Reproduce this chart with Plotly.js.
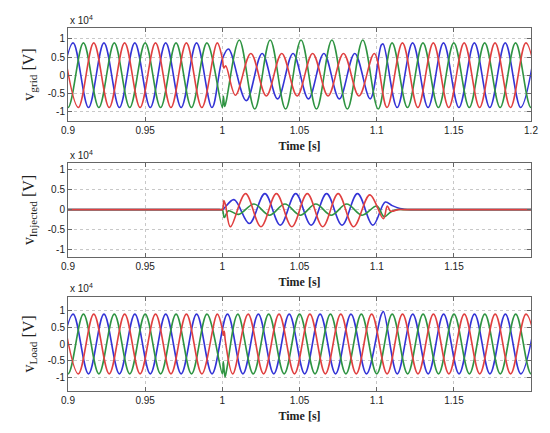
<!DOCTYPE html>
<html>
<head>
<meta charset="utf-8">
<script src="https://cdn.plot.ly/plotly-3.0.1.min.js"></script>
<style>
  body { margin: 0; background: #fff; }
  #graphs-div { width: 550px; height: 433px; }
</style>
</head>
<body>
<div id="graphs-div"></div>
<script>
// Steady 50 Hz waveforms: times [s] of each half-cycle extreme and the value there [V]
const blueSteadyT = [0.8933, 0.9033, 0.9133, 0.9233, 0.9333, 0.9433, 0.9533, 0.9633, 0.9733, 0.9833, 0.9933,
    1.0033, 1.0133, 1.0233, 1.0333, 1.0433, 1.0533, 1.0633, 1.0733, 1.0833, 1.0933,
    1.1033, 1.1133, 1.1233, 1.1333, 1.1433, 1.1533, 1.1633, 1.1733, 1.1833, 1.1933, 1.2033];
const blueSteadyV = [-8900, 8900, -8900, 8900, -8900, 8900, -8900, 8900, -8900, 8900, -8900,
    8900, -8900, 8900, -8900, 8900, -8900, 8900, -8900, 8900, -8900,
    8900, -8900, 8900, -8900, 8900, -8900, 8900, -8900, 8900, -8900, 8900];
const greenSteadyT = [0.89, 0.90, 0.91, 0.92, 0.93, 0.94, 0.95, 0.96, 0.97, 0.98, 0.99,
    1.00, 1.01, 1.02, 1.03, 1.04, 1.05, 1.06, 1.07, 1.08, 1.09,
    1.10, 1.11, 1.12, 1.13, 1.14, 1.15, 1.16, 1.17, 1.18, 1.19, 1.20, 1.21];
const greenSteadyV = [8900, -8900, 8900, -8900, 8900, -8900, 8900, -8900, 8900, -8900, 8900,
    -8900, 8900, -8900, 8900, -8900, 8900, -8900, 8900, -8900, 8900,
    -8900, 8900, -8900, 8900, -8900, 8900, -8900, 8900, -8900, 8900, -8900, 8900];
const redSteadyT = [0.8967, 0.9067, 0.9167, 0.9267, 0.9367, 0.9467, 0.9567, 0.9667, 0.9767, 0.9867, 0.9967,
    1.0067, 1.0167, 1.0267, 1.0367, 1.0467, 1.0567, 1.0667, 1.0767, 1.0867, 1.0967,
    1.1067, 1.1167, 1.1267, 1.1367, 1.1467, 1.1567, 1.1667, 1.1767, 1.1867, 1.1967, 1.2067];
const redSteadyV = [8900, -8900, 8900, -8900, 8900, -8900, 8900, -8900, 8900, -8900, 8900,
    -8900, 8900, -8900, 8900, -8900, 8900, -8900, 8900, -8900, 8900,
    -8900, 8900, -8900, 8900, -8900, 8900, -8900, 8900, -8900, 8900, -8900];

// Grid voltage during the sag (replaces the steady points in its time span)
const gridBlueSagT = [1.0000, 1.0040, 1.0155, 1.0258, 1.0358, 1.0458, 1.0558, 1.0658, 1.0758, 1.0858, 1.0958, 1.1030, 1.1042];
const gridBlueSagV = [4450, 7200, -7000, 6000, -6500, 6000, -6500, 6000, -6500, 6000, -6500, 8300, 8600];
const gridGreenSagT = [1.0000, 1.0007, 1.0015, 1.0025, 1.0110, 1.0210, 1.0310, 1.0410, 1.0510, 1.0610, 1.0710, 1.0810, 1.0910, 1.1010];
const gridGreenSagV = [-8900, -5800, -8600, -7200, 9700, -9300, 9700, -9300, 9700, -9300, 9700, -9300, 9700, -9300];
const gridRedSagT = [1.0000, 1.0010, 1.0022, 1.0085, 1.0185, 1.0285, 1.0385, 1.0485, 1.0585, 1.0685, 1.0785, 1.0885, 1.0985];
const gridRedSagV = [4600, 2000, 2600, -5500, 6000, -5700, 6000, -5700, 6000, -5700, 6000, -5700, 6000];

// Injected voltage
const injBlueT = [0.89, 0.998, 1.0000, 1.0075, 1.0175, 1.0275, 1.0375, 1.0475, 1.0575, 1.0675, 1.0775, 1.0875, 1.0975,
    1.1055, 1.1100, 1.1150, 1.1220, 1.1260, 1.21];
const injBlueV = [0, 0, 0, 2500, -3500, 4000, -3900, 4000, -3900, 4000, -3900, 4000, -3900,
    1900, 1000, 300, 0, 0, 0];
const injGreenT = [0.89, 0.998, 1.0000, 1.0012, 1.0040, 1.0105, 1.0205, 1.0305, 1.0405, 1.0505, 1.0605, 1.0705, 1.0805, 1.0905,
    1.1000, 1.1048, 1.1090, 1.1130, 1.1170, 1.21];
const injGreenV = [0, 0, 0, -2000, -300, -1200, 1400, -1400, 1400, -1400, 1400, -1400, 1400, -1400,
    900, -1800, -600, 0, 0, 0];
const injRedT = [0.89, 0.998, 1.0000, 1.0010, 1.0020, 1.0052, 1.0150, 1.0250, 1.0350, 1.0450, 1.0550, 1.0650, 1.0750, 1.0850, 1.0955,
    1.1043, 1.1068, 1.1090, 1.1140, 1.1180, 1.21];
const injRedV = [0, 0, 0, 2300, 1200, -4300, 4000, -4300, 4000, -4300, 4000, -4300, 4000, -4300, 3700,
    -2300, 900, -400, 0, 0, 0];

// Load voltage switching transients
const loadBlueTrT = [1.1028, 1.1043];
const loadBlueTrV = [8600, 9700];
const loadGreenTrT = [1.0000, 1.0006, 1.0017, 1.0028];
const loadGreenTrV = [-8900, -5200, -9800, -7600];
const loadRedTrT = [1.0000, 1.0006, 1.0012, 1.0020];
const loadRedTrV = [4400, 2600, 3800, 600];

// Axis ticks
const xTickVals = [0.9, 0.95, 1, 1.05, 1.1, 1.15, 1.2];
const xTickText = ['0.9', '0.95', '1', '1.05', '1.1', '1.15', '1.2'];
const yTickVals = [-10000, -5000, 0, 5000, 10000];
const yTickText = ['-1', '-0.5', '0', '0.5', '1'];

const BLUE = '#3434d6';
const GREEN = '#2f9442';
const RED = '#e04040';

// put the transient points in place of the steady ones that fall in their time span
function mergeTransient(steadyT, steadyV, trT, trV) {
    let t0 = trT[0], t1 = trT[trT.length - 1];
    let pts = [];
    for (let i = 0; i < steadyT.length; i++) {
        if (steadyT[i] < t0 || steadyT[i] > t1) pts.push([steadyT[i], steadyV[i]]);
    }
    for (let i = 0; i < trT.length; i++) pts.push([trT[i], trV[i]]);
    pts.sort((a, b) => a[0] - b[0]);
    return { t: pts.map(p => p[0]), v: pts.map(p => p[1]) };
}

function makeTrace(t, v, color, n) {
    return {
        x: t, y: v,
        xaxis: n === 1 ? 'x' : 'x' + n,
        yaxis: n === 1 ? 'y' : 'y' + n,
        mode: 'lines', type: 'scatter',
        line: { color: color, width: 1.6, shape: 'spline', smoothing: 1 },
        hoverinfo: 'skip'
    };
}

let gB = mergeTransient(blueSteadyT, blueSteadyV, gridBlueSagT, gridBlueSagV);
let gG = mergeTransient(greenSteadyT, greenSteadyV, gridGreenSagT, gridGreenSagV);
let gR = mergeTransient(redSteadyT, redSteadyV, gridRedSagT, gridRedSagV);
let lB = mergeTransient(blueSteadyT, blueSteadyV, loadBlueTrT, loadBlueTrV);
let lG = mergeTransient(greenSteadyT, greenSteadyV, loadGreenTrT, loadGreenTrV);
let lR = mergeTransient(redSteadyT, redSteadyV, loadRedTrT, loadRedTrV);

var data = [
    makeTrace(gB.t, gB.v, BLUE, 1), makeTrace(gG.t, gG.v, GREEN, 1), makeTrace(gR.t, gR.v, RED, 1),
    makeTrace(injBlueT, injBlueV, BLUE, 2), makeTrace(injGreenT, injGreenV, GREEN, 2), makeTrace(injRedT, injRedV, RED, 2),
    makeTrace(lB.t, lB.v, BLUE, 3), makeTrace(lG.t, lG.v, GREEN, 3), makeTrace(lR.t, lR.v, RED, 3)
];

const W = 550, H = 433;
const xDom = [68 / W, 531 / W];
const tickFont = { family: 'Liberation Sans, Arial, sans-serif', size: 10, color: '#222' };

function xAxis(anchor, xmax) {
    return {
        domain: xDom, anchor: anchor, range: [0.9, xmax],
        tickmode: 'array', tickvals: xTickVals, ticktext: xTickText,
        showline: true, mirror: 'ticks', linecolor: '#666', linewidth: 1,
        ticks: 'inside', ticklen: 4, tickcolor: '#666',
        showgrid: true, gridcolor: '#c8c8c8', griddash: 'dot', gridwidth: 1,
        zeroline: false, tickfont: tickFont,
        title: { text: '<b>Time [s]</b>', font: { family: 'Liberation Serif, Times New Roman, serif', size: 12, color: '#222' }, standoff: 6 }
    };
}
function yAxis(anchor, top, bottom, range, label) {
    return {
        domain: [1 - bottom / H, 1 - top / H], anchor: anchor, range: range,
        tickmode: 'array', tickvals: yTickVals, ticktext: yTickText,
        showline: true, mirror: 'ticks', linecolor: '#666', linewidth: 1,
        ticks: 'inside', ticklen: 4, tickcolor: '#666',
        showgrid: true, gridcolor: '#c8c8c8', griddash: 'dot', gridwidth: 1,
        zeroline: false, tickfont: tickFont,
        title: { text: label, font: { family: 'Liberation Serif, Times New Roman, serif', size: 16, color: '#222' }, standoff: 9 }
    };
}
function expLabel(ypx) {
    return {
        xref: 'paper', yref: 'paper', x: 68 / W, y: 1 - ypx / H,
        xanchor: 'left', yanchor: 'middle', showarrow: false,
        text: 'x 10<sup>4</sup>', font: tickFont
    };
}

var layout = {
    width: W, height: H,
    margin: { l: 0, r: 0, t: 0, b: 0 },
    paper_bgcolor: '#fff', plot_bgcolor: '#fff',
    showlegend: false,
    xaxis: xAxis('y', 1.2),
    yaxis: yAxis('x', 28, 121, [-12600, 13000], 'v<sub>grid</sub> [V]'),
    xaxis2: xAxis('y2', 1.1999),
    yaxis2: yAxis('x2', 163, 257, [-11900, 11700], 'v<sub>Injected</sub> [V]'),
    xaxis3: xAxis('y3', 1.1999),
    yaxis3: yAxis('x3', 297, 391, [-14000, 14000], 'v<sub>Load</sub> [V]'),
    annotations: [expLabel(20), expLabel(155), expLabel(288)]
};

Plotly.newPlot('graphs-div', data, layout, { displayModeBar: false, staticPlot: true });
</script>
</body>
</html>
